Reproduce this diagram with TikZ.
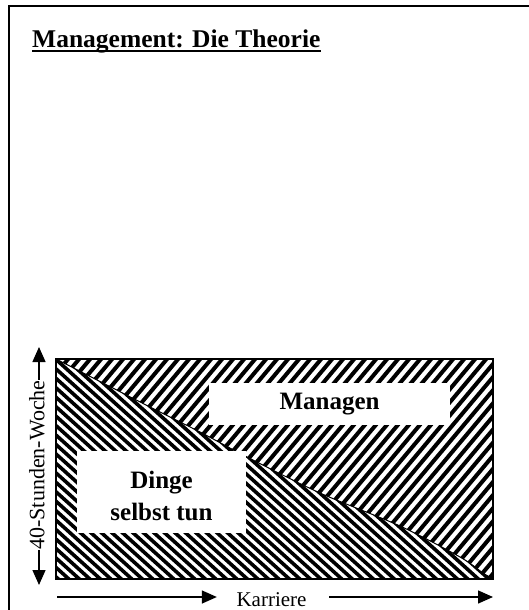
\documentclass[tikz,border=0pt]{standalone}
\usepackage{fontspec}
\setmainfont{Liberation Serif}
\usetikzlibrary{arrows.meta}
\begin{document}
\begin{tikzpicture}[x=1pt,y=-1pt,
  frame/.style={line width=1.5pt},
  chartbox/.style={line width=2pt},
  lowstripe/.style={line width=3.6pt},
  upstripe/.style={line width=4pt},
  boldlabel/.style={inner sep=0pt, font=\fontsize{25}{32}\selectfont\bfseries, align=center},
  axisarrow/.style={line width=1.4pt, -{Triangle[length=15pt,width=13pt]}},
  axtext/.style={font=\fontsize{21}{25}\selectfont, inner sep=0.5pt}]
\useasboundingbox (0,0) rectangle (528,610);
% outer frame (clipped at right and bottom)
\draw[frame] (545,6) -- (9,6) -- (9,620);
% title
\node[anchor=base west, font=\fontsize{25.5}{30}\selectfont\bfseries, inner sep=0pt] (title) at (32,48) {Management: Die Theorie};
\draw[line width=2pt] ([yshift=-3.5pt]title.base west) -- ([yshift=-3.5pt]title.base east);
% lower region: "Dinge selbst tun"
\begin{scope}
  \clip plot[smooth] coordinates {(56,359) (150,407) (200,432) (247,457) (320,493) (400,526) (460,557) (483,573) (493,579)} -- (56,579) -- cycle;
  \foreach \c in {-430,-419.5,...,510} \draw[lowstripe] (\c,300) -- ({\c+400/tan(42)},700);
\end{scope}
% upper region: "Managen"
\begin{scope}
  \clip plot[smooth] coordinates {(56,359) (150,407) (200,432) (247,457) (320,493) (400,526) (460,557) (483,573) (493,579)} -- (493,359) -- cycle;
  \foreach \c in {-220,-209,...,460} \draw[upstripe] (\c,650) -- ({\c+350/tan(50)},300);
\end{scope}
\draw[line width=1pt] plot[smooth] coordinates {(56,359) (150,407) (200,432) (247,457) (320,493) (400,526) (460,557) (483,573) (493,579)};
\draw[chartbox] (56,359) rectangle (493,579);
% labels
\node[boldlabel, fill=white, minimum width=241pt, minimum height=42pt] (managen) at (329.5,404) {Managen};
\fill[white] (77,451) rectangle (246,533);
\node[boldlabel] (dinge) at (161.5,496) {Dinge\\selbst tun};
% vertical axis
\node[axtext, font=\fontsize{22}{26}\selectfont, rotate=90] (vt) at (37,465) {40-Stunden-Woche};
\coordinate (vtop) at (39,347);
\coordinate (vbot) at (39,585);
\draw[axisarrow] (vt.east -| vtop) -- (vtop);
\draw[axisarrow] (vt.west -| vbot) -- (vbot);
% horizontal axis
\node[axtext] (kt) at (271.5,600) {Karriere};
\coordinate (hl) at (57,597);
\coordinate (hr) at (493,597);
\draw[axisarrow, shorten >=19pt] (hl) -- (kt.west |- hl);
\draw[axisarrow, shorten <=22pt] (kt.east |- hr) -- (hr);
\end{tikzpicture}
\end{document}
